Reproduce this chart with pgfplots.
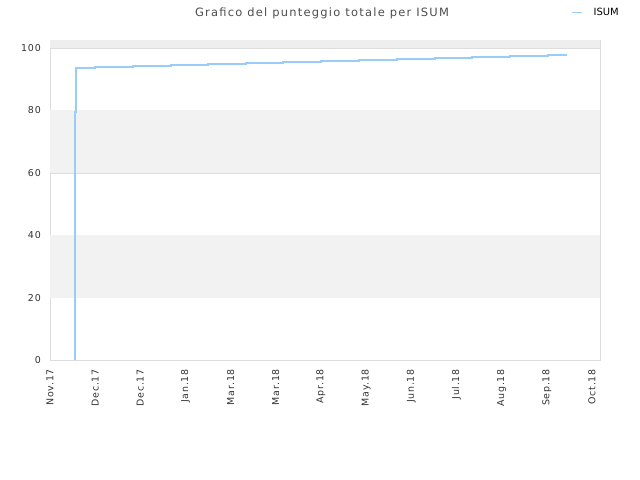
\documentclass[border=0pt]{standalone}
\usepackage{fontspec}
\setmainfont{DejaVu Sans}
\usepackage{pgfplots}
\pgfplotsset{compat=1.18}
\definecolor{lineblue}{HTML}{99CCF8}
\definecolor{frame}{HTML}{DDDDDD}
\definecolor{band}{HTML}{F2F2F2}
\definecolor{topband}{HTML}{EEEEEE}
\definecolor{txt}{HTML}{333333}
\newcommand\tickfont{\fontsize{9.5}{10}\selectfont\addfontfeature{LetterSpace=8}}
\begin{document}
\begin{tikzpicture}[x=1bp,y=1bp]
\path (-50,-120) rectangle (590,360);
\begin{axis}[
    at={(0,0)}, anchor=south west,
    scale only axis, width=550bp, height=320bp,
    xmin=0, xmax=12.18, ymin=0, ymax=102.6,
    axis line style={frame},
    major tick length=0pt,
    xtick={0,...,12},
    xticklabels={Nov.17,Dec.17,Dec.17,Jan.18,Mar.18,Mar.18,Apr.18,May.18,Jun.18,Jul.18,Aug.18,Sep.18,Oct.18},
    x tick label style={rotate=90, anchor=east, inner xsep=9bp, font=\tickfont, text=txt},
    ytick={0,20,40,60,80,100},
    y tick label style={anchor=east, inner xsep=9bp, font=\tickfont, text=txt},
    /pgf/number format/assume math mode=true,
    ymajorgrids, grid style={frame, line width=0.6bp},
    xtick pos=bottom, ytick pos=left,
    title={Grafico del punteggio totale per ISUM},
    title style={font=\fontsize{11.5}{12}\selectfont\addfontfeature{LetterSpace=11}, text=black!70, at={(0.4945,1)}, yshift=12bp},
    legend style={at={(1,1)}, anchor=south east, xshift=21bp, yshift=21bp, draw=none, fill=none,
        font=\fontsize{10}{10}\selectfont, text=black, inner sep=0pt},
    legend image code/.code={\draw[#1, line width=1.2bp] (0bp,0bp) -- (10bp,0bp); \path (19bp,0bp);},
  ]
  \fill[band] (axis cs:0,20) rectangle (axis cs:12.18,40);
  \fill[band] (axis cs:0,60) rectangle (axis cs:12.18,80);
  \fill[topband] (axis cs:0,100) rectangle (axis cs:12.18,102.6);
  \addplot[const plot, lineblue, line width=2bp, no marks] coordinates {
    (0.547,0) (0.547,79.6) (0.576,93.6) (0.997,93.9) (1.832,94.2) (2.674,94.6)
    (3.494,94.9) (4.335,95.2) (5.162,95.5) (5.997,95.8) (6.845,96.2) (7.680,96.6)
    (8.529,96.9) (9.349,97.2) (10.19,97.5) (11.03,97.9) (11.45,97.9)
  };
  \addlegendentry{ISUM}
\end{axis}
\end{tikzpicture}
\end{document}
